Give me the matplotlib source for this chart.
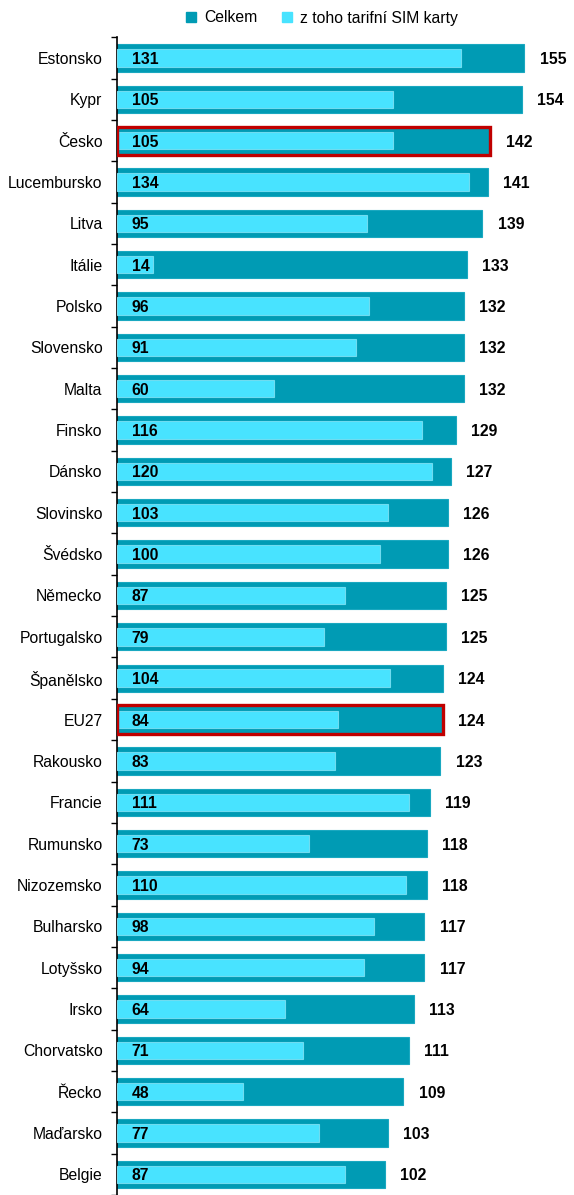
import numpy as np
import matplotlib.pyplot as plt
from matplotlib.patches import Patch

plt.rcParams['font.family'] = ['Liberation Sans', 'DejaVu Sans']

# Data
zeme = ['Estonsko', 'Kypr', 'Česko', 'Lucembursko', 'Litva', 'Itálie', 'Polsko',
        'Slovensko', 'Malta', 'Finsko', 'Dánsko', 'Slovinsko', 'Švédsko', 'Německo',
        'Portugalsko', 'Španělsko', 'EU27', 'Rakousko', 'Francie', 'Rumunsko',
        'Nizozemsko', 'Bulharsko', 'Lotyšsko', 'Irsko', 'Chorvatsko', 'Řecko',
        'Maďarsko', 'Belgie']
celkem = [155, 154, 142, 141, 139, 133, 132, 132, 132, 129, 127, 126, 126, 125,
          125, 124, 124, 123, 119, 118, 118, 117, 117, 113, 111, 109, 103, 102]
tarif = [131, 105, 105, 134, 95, 14, 96, 91, 60, 116, 120, 103, 100, 87,
         79, 104, 84, 83, 111, 73, 110, 98, 94, 64, 71, 48, 77, 87]
zvyraznit = ['Česko', 'EU27']

tmava = '#009bb4'
svetla = '#48e3ff'
fs = 11.3

fig = plt.figure(figsize=(5.74, 11.95), dpi=100)
ax = fig.add_axes([116.5/574, 0, 1 - 116.5/574, 1 - 37.3/1195])

y = np.arange(len(zeme))
ax.barh(y, celkem, height=0.66, color=tmava, edgecolor='#1aa8c0', linewidth=0.8, zorder=2)
ax.barh(y, tarif, height=0.42, color=svetla, edgecolor='#6fdcf0', linewidth=0.8, zorder=3)

for i, z in enumerate(zeme):
    if z in zvyraznit:
        ax.barh(i, celkem[i], height=0.68, fill=False, edgecolor='#c00000',
                linewidth=2.4, zorder=4)
    ax.text(5.8, i, str(tarif[i]), va='center_baseline', ha='left', fontsize=fs,
            fontweight='bold', zorder=5)
    ax.text(celkem[i] + 5.8, i, str(celkem[i]), va='center_baseline', ha='left',
            fontsize=fs, fontweight='bold')

ax.set_xlim(0, 457.5/2.632)
ax.set_ylim(27.5 - 3.7/41.48, -0.5)
ax.set_yticks(y)
ax.set_yticklabels(zeme, fontsize=fs, va='center_baseline')
ax.tick_params(axis='y', length=0, pad=10)
ax.set_yticks(np.arange(-0.5, len(zeme), 1), minor=True)
ax.tick_params(axis='y', which='minor', length=4, width=1)
ax.set_xticks([])
for s in ['top', 'right', 'bottom']:
    ax.spines[s].set_visible(False)
ax.spines['left'].set_linewidth(1.2)

handles = [Patch(color=tmava, label='Celkem'),
           Patch(color=svetla, label='z toho tarifní SIM karty')]
fig.legend(handles=handles, loc='center', bbox_to_anchor=(322/574, 1 - 18/1195),
           ncol=2, frameon=False, fontsize=fs, handlelength=0.65, handleheight=0.65,
           columnspacing=1.6, handletextpad=0.5)

plt.savefig('out.png', dpi=100)
